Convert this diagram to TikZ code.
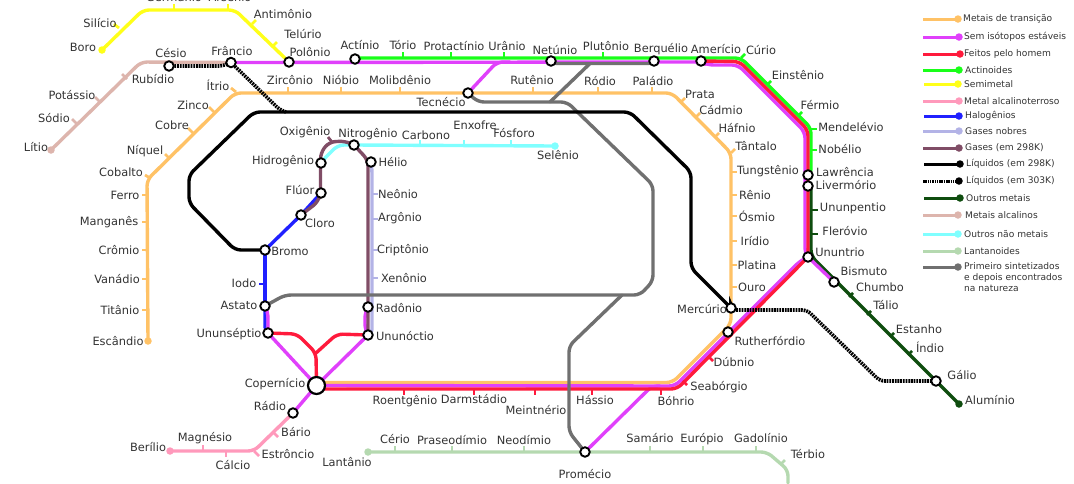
\documentclass[tikz,border=0pt]{standalone}
\usepackage{fontspec}
\setmainfont{DejaVu Sans}
\usetikzlibrary{backgrounds}
\definecolor{cOra}{HTML}{FFC266}
\definecolor{cMag}{HTML}{E040FB}
\definecolor{cRed}{HTML}{FF1A3C}
\definecolor{cGre}{HTML}{19FF19}
\definecolor{cYel}{HTML}{FFFF19}
\definecolor{cPin}{HTML}{FF99BB}
\definecolor{cBlu}{HTML}{2020FF}
\definecolor{cLav}{HTML}{B3B3E6}
\definecolor{cBro}{HTML}{804D66}
\definecolor{cDkg}{HTML}{0F4D0F}
\definecolor{cAlc}{HTML}{DDB5AD}
\definecolor{cCya}{HTML}{80FFFF}
\definecolor{cLan}{HTML}{B5D9B0}
\definecolor{cGra}{HTML}{707070}
\definecolor{cTxt}{HTML}{333333}
\tikzset{
  st/.style={circle,draw=black,fill=white,line width=1.9pt,minimum size=9.5pt,inner sep=0pt},
  stbig/.style={st,line width=2.2pt,minimum size=17pt},
  enddot/.style={circle,fill=#1,minimum size=7.5pt,inner sep=0pt},
  rt/.style={line width=3.4pt,rounded corners=6pt,line cap=round},
  dotline/.style={line width=3.6pt,rounded corners=5pt,dash pattern=on 1.8pt off 0.9pt,draw=black},
  tk/.style={line width=2.8pt},
  lbl/.style={inner sep=0pt,text=cTxt,font=\fontsize{11.4pt}{13pt}\selectfont},
  leglbl/.style={inner sep=0pt,anchor=west,text=cTxt,font=\fontsize{9.1pt}{11pt}\selectfont,align=left},
  legl/.style={line width=3pt}
}
\newcommand{\lbl}[4]{\node[lbl] (#1) at (#2,#3) {#4};}
\newcommand{\tck}[5]{\draw[tk,#1] (#2,#3) -- (#4,#5);}
\newcommand{\leg}[7]{%
  \node[enddot=#2] (d#1) at (#4,#3) {};
  \node[leglbl] (t#1) at (#5,#3) {#7};
  \begin{pgfonlayer}{background}\draw[legl,#2] (#6,#3) -- (d#1.center);\end{pgfonlayer}}
\begin{document}
\begin{tikzpicture}[x=1pt,y=-1pt]
\useasboundingbox (0,0) rectangle (1074,483);
\clip (0,0) rectangle (1074,483);
% stations
\node[st] (ces) at (169,66) {};
\node[st] (frn) at (231,62.5) {};
\node[st] (pol) at (289,62) {};
\node[st] (act) at (355,59) {};
\node[st] (net) at (551,61) {};
\node[st] (ber) at (654,61) {};
\node[st] (ame) at (701,61) {};
\node[st] (tec) at (468,93) {};
\node[st] (law) at (808,175) {};
\node[st] (liv) at (808,186) {};
\node[st] (uut) at (808,257) {};
\node[st] (bis) at (834,282) {};
\node[st] (gal) at (936,381) {};
\node[st] (mer) at (731,308) {};
\node[st] (rut) at (728,332) {};
\node[st] (hid) at (321,163) {};
\node[st] (nit) at (354,145) {};
\node[st] (hel) at (371,162) {};
\node[st] (flu) at (321,193) {};
\node[st] (clo) at (301,215) {};
\node[st] (bro) at (265,250) {};
\node[st] (ast) at (265,306) {};
\node[st] (uns) at (268,333) {};
\node[st] (rad) at (368,307) {};
\node[st] (uno) at (368,335) {};
\node[stbig] (cop) at (316.5,385.5) {};
\node[st] (rdi) at (293,413) {};
\node[st] (pro) at (585,452) {};
% terminal dots
\node[enddot=cYel] (bor) at (102,50) {};
\node[enddot=cAlc] (lit) at (51,150) {};
\node[enddot=cOra] (esc) at (148,341) {};
\node[enddot=cCya] (sel) at (555,146) {};
\node[enddot=cPin] (bel) at (170,451) {};
\node[enddot=cLan] (lan) at (368,452) {};
\node[enddot=cDkg] (alu) at (959,404) {};
% free ends
\coordinate (terbEnd) at (788,483);
\begin{pgfonlayer}{background}
% ticks
\tck{cYel}{119}{28}{114}{24}\tck{cYel}{174}{9}{174}{4}\tck{cYel}{228}{9}{228}{4}\tck{cYel}{252}{24}{256}{20}\tck{cYel}{273}{46}{277}{42}
\tck{cAlc}{122}{74}{127}{79}\tck{cAlc}{100}{102}{95}{97}\tck{cAlc}{77}{124}{72}{119}
\tck{cOra}{236}{92}{231}{88}\tck{cOra}{214}{112}{209}{107}\tck{cOra}{193}{133}{188}{128}\tck{cOra}{170}{159}{165}{154}\tck{cOra}{150}{178}{145}{175}
\tck{cOra}{147}{195}{142}{195}\tck{cOra}{147}{222}{142}{222}\tck{cOra}{147}{250}{142}{250}\tck{cOra}{147}{279}{142}{279}\tck{cOra}{147}{310}{142}{310}
\tck{cOra}{288}{93}{288}{87}\tck{cOra}{341}{93}{341}{87}\tck{cOra}{400}{93}{400}{87}\tck{cOra}{533}{93}{533}{87}\tck{cOra}{598}{93}{598}{87}\tck{cOra}{652}{93}{652}{87}
\tck{cOra}{681}{102}{685}{98}\tck{cOra}{696}{117}{700}{113}\tck{cOra}{715}{137}{719}{133}\tck{cOra}{731}{153}{735}{149}
\tck{cOra}{731}{172}{737}{172}\tck{cOra}{731}{195}{737}{195}\tck{cOra}{731}{216}{737}{216}\tck{cOra}{731}{241}{737}{241}\tck{cOra}{731}{265}{737}{265}\tck{cOra}{731}{287}{737}{287}
\tck{cGre}{403}{58}{403}{52}\tck{cGre}{451}{58}{451}{52}\tck{cGre}{504}{58}{504}{52}\tck{cGre}{603}{58}{603}{52}
\tck{cGre}{741}{58}{745}{54}\tck{cGre}{767}{85}{771}{81}\tck{cGre}{798}{116}{802}{112}
\tck{cGre}{811}{129}{817}{129}\tck{cGre}{811}{150}{817}{150}
\tck{cDkg}{811}{210}{818}{210}\tck{cDkg}{811}{234}{818}{234}
\tck{cDkg}{849}{297}{853}{293}\tck{cDkg}{867}{315}{871}{311}\tck{cDkg}{890}{337}{894}{333}\tck{cDkg}{908}{355}{912}{351}
\tck{cRed}{404}{389}{404}{395}\tck{cRed}{474}{389}{474}{395}\tck{cRed}{535}{389}{535}{395}\tck{cRed}{592}{389}{592}{395}\tck{cRed}{661}{389}{661}{395}
\tck{cRed}{682}{380}{687}{385}\tck{cRed}{708}{356}{713}{361}
\tck{cCya}{420}{146}{420}{140}\tck{cCya}{464}{146}{464}{140}\tck{cCya}{511}{146}{511}{140}
\tck{cBro}{332}{142}{328}{137}
\tck{cBlu}{265}{284}{259}{284}
\tck{cLav}{372}{194}{378}{194}\tck{cLav}{372}{219}{378}{219}\tck{cLav}{372}{250}{378}{250}\tck{cLav}{372}{278}{378}{278}
\tck{cPin}{203}{451}{203}{445}\tck{cPin}{226}{451}{226}{457}\tck{cPin}{254}{451}{259}{456}\tck{cPin}{273}{432}{278}{437}
\tck{cLan}{395}{452}{395}{446}\tck{cLan}{452}{452}{452}{446}\tck{cLan}{524}{452}{524}{446}\tck{cLan}{650}{452}{650}{446}\tck{cLan}{703}{452}{703}{446}\tck{cLan}{756}{452}{756}{446}\tck{cLan}{781}{464}{785}{460}
% lines
\draw[rt,cYel] (bor.center) -- (143,10) -- (235,10) -- (pol.center);
\draw[rt,cAlc] (lit.center) -- (141,62) -- (frn.center);
\draw[rt,cOra] (cop.center) ++(0,-3) -- (672.5,382.5) -- (731,324) -- (mer.center) -- (731,153) -- (672,93) -- (235,93) -- (147,180) -- (esc.center);
\draw[rt,cPin] (rdi.center) -- (254,451) -- (bel.center);
\draw[rt,cLan] (lan.center) -- (767,452) -- (788,470) -- (terbEnd);
\draw[rt,cLav] (hel.center) -- (372,168) -- (372,335) -- (uno.center);
\draw[rt,cCya] (hid.center) -- (323,160) -- (338,145) -- (nit.center) -- (sel.center);
\draw[rt,cBlu] (flu.center) -- (clo.center) -- (bro.center) -- (265,328);
\draw[rt,cMag] (ast.center) -- (268,312) -- (uns.center);
\draw[rt,cMag] (rad.center) -- (365,312) -- (365,330) -- (uno.center);
\draw[rt,cBro] (clo.center) -- (318,202) -- (320.5,193) -- (320.5,153) -- (329,142) -- (345,141) -- (nit.center) -- (368,160) -- (368,335) -- (uno.center);
\draw[rt,cBlu] (bro.center) -- (265,306);
\draw[rt,cDkg] ([xshift=3pt]liv.center) -- (811,256) -- (gal.center) -- (alu.center);
\draw[rt,cGre] (act.center) -- (355,58) -- (741,58) -- (811,128) -- (811,175) -- (law.center);
\draw[rt,cMag] (frn.center) -- (701,62) -- (708,65) -- (738,65) -- (805,132) -- (805,254) -- (uut.center);
\draw[rt,cMag] (tec.center) -- (497,62) -- (510,62);
\draw[rt,cRed] (ame.center) -- (739.5,61.5) -- (808,130) -- (uut.center);
\draw[rt,cMag] (uns.center) -- (cop.center);
\draw[rt,cMag] (uno.center) -- (cop.center);
\draw[rt,cMag] (cop.center) -- (rdi.center);
\draw[rt,cMag] (uut.center) -- (bis.center);
\draw[rt,cMag] (pro.center) -- (652,386) -- (660,386);
\draw[rt,cMag] (cop.center) -- (675,386) -- (800,261) -- (uut.center);
\draw[rt,cRed] ([yshift=-3.5pt]cop.center) -- (677,389) -- (uut.center);
\draw[rt,cRed] (uns.center) -- (297,334) -- (316,353) -- (cop.center);
\draw[rt,cRed] (uno.center) -- (337,334) -- (316,353);
\draw[rt,cGra] (net.center) -- (551,63.5) -- (654,63.5) -- (ber.center);
\draw[rt,cGra] (590,63.5) -- (550,102);
\draw[rt,cGra] (tec.center) -- (478,102) -- (567,102) -- (653,185) -- (653,281) -- (640,295) -- (285,295) -- (ast.center);
\draw[rt,cGra] (622,295) -- (569,346) -- (569,432) -- (pro.center);
\draw[rt,black] (bro.center) -- (235,250) -- (189,203) -- (189,175) -- (254,112) -- (630,112) -- (691,172) -- (691,268) -- (mer.center);
\draw[dotline] (ces.center) -- (223,66) -- (frn.center);
\draw[dotline] (frn.center) -- (280,110) -- (286,112);
\draw[dotline] (mer.center) -- (731,310) -- (807,310) -- (880,381) -- (gal.center);
\end{pgfonlayer}
% labels
\lbl{lSil}{100}{23}{Silício}\lbl{lBor}{83}{47}{Boro}\lbl{lGer}{174}{-3}{Germânio}\lbl{lArs}{230}{-3}{Arsênio}\lbl{lAnt}{283}{14}{Antimônio}\lbl{lTel}{303}{34}{Telúrio}\lbl{lPol}{310}{52}{Polônio}
\lbl{lAct}{360}{45}{Actínio}\lbl{lTor}{403}{45}{Tório}\lbl{lPrt}{454}{46}{Protactínio}\lbl{lUra}{507}{46}{Urânio}\lbl{lNet}{555}{50}{Netúnio}\lbl{lPlu}{606}{46}{Plutônio}\lbl{lBer}{661}{49}{Berquélio}\lbl{lAme}{716}{49}{Amerício}\lbl{lCur}{761}{50}{Cúrio}
\lbl{lEin}{798}{75}{Einstênio}\lbl{lFer}{820}{105}{Férmio}\lbl{lMen}{851}{127}{Mendelévio}\lbl{lNob}{840}{149}{Nobélio}\lbl{lLaw}{845}{172}{Lawrência}\lbl{lLiv}{846}{185}{Livermório}\lbl{lUup}{853}{208}{Ununpentio}\lbl{lFle}{845}{231}{Fleróvio}\lbl{lUut}{840}{252}{Ununtrio}\lbl{lBis}{864}{271}{Bismuto}\lbl{lChu}{880}{287}{Chumbo}\lbl{lTal}{886}{305}{Tálio}\lbl{lEst}{919}{329}{Estanho}\lbl{lInd}{930}{347}{Índio}\lbl{lGal}{962}{375}{Gálio}\lbl{lAlu}{990}{400}{Alumínio}
\lbl{lLit}{36}{147}{Lítio}\lbl{lSod}{54}{118}{Sódio}\lbl{lPot}{72}{95}{Potássio}\lbl{lRub}{153}{79}{Rubídio}\lbl{lCes}{171}{53}{Césio}\lbl{lFrn}{232}{51}{Frâncio}
\lbl{lItr}{218}{85}{Ítrio}\lbl{lZin}{193}{105}{Zinco}\lbl{lCob}{172}{125}{Cobre}\lbl{lNiq}{145}{151}{Níquel}\lbl{lCbl}{121}{172}{Cobalto}\lbl{lFeo}{125}{195}{Ferro}\lbl{lMan}{109}{222}{Manganês}\lbl{lCro}{119}{250}{Crômio}\lbl{lVan}{117}{279}{Vanádio}\lbl{lTit}{120}{310}{Titânio}\lbl{lEsc}{118}{341}{Escândio}
\lbl{lZir}{290}{80}{Zircônio}\lbl{lNio}{341}{80}{Nióbio}\lbl{lMol}{400}{80}{Molibdênio}\lbl{lTec}{441}{102}{Tecnécio}\lbl{lRut}{532}{80}{Rutênio}\lbl{lRod}{600}{81}{Ródio}\lbl{lPal}{653}{81}{Paládio}\lbl{lPra}{700}{94}{Prata}\lbl{lCad}{721}{110}{Cádmio}\lbl{lHaf}{737}{128}{Háfnio}\lbl{lTan}{756}{146}{Tântalo}\lbl{lTun}{768}{171}{Tungstênio}\lbl{lRen}{755}{195}{Rênio}\lbl{lOsm}{757}{216}{Ósmio}\lbl{lIri}{755}{241}{Irídio}\lbl{lPla}{757}{265}{Platina}\lbl{lOur}{752}{287}{Ouro}\lbl{lMer}{702}{309}{Mercúrio}
\lbl{lRtf}{770}{341}{Rutherfórdio}\lbl{lDub}{734}{362}{Dúbnio}\lbl{lSea}{719}{387}{Seabórgio}\lbl{lBoh}{676}{401}{Bóhrio}\lbl{lHas}{595}{400}{Hássio}\lbl{lMei}{536}{410}{Meintnério}\lbl{lDar}{474}{399}{Darmstádio}\lbl{lRoe}{405}{401}{Roentgênio}\lbl{lCop}{275}{384}{Copernício}\lbl{lRad}{270}{406}{Rádio}\lbl{lBar}{296}{432}{Bário}\lbl{lEsr}{288}{454}{Estrôncio}\lbl{lBel}{148}{447}{Berílio}\lbl{lMag}{205}{438}{Magnésio}\lbl{lCal}{233}{465}{Cálcio}
\lbl{lLan}{347}{462}{Lantânio}\lbl{lCer}{395}{439}{Cério}\lbl{lPrs}{452}{440}{Praseodímio}\lbl{lNeo}{524}{440}{Neodímio}\lbl{lPro}{585}{474}{Promécio}\lbl{lSam}{650}{438}{Samário}\lbl{lEur}{702}{439}{Európio}\lbl{lGad}{761}{438}{Gadolínio}\lbl{lTer}{808}{454}{Térbio}
\lbl{lOxi}{305}{132}{Oxigênio}\lbl{lNit}{368}{134}{Nitrogênio}\lbl{lCar}{426}{135}{Carbono}\lbl{lEnx}{475}{125}{Enxofre}\lbl{lFos}{514}{133}{Fósforo}\lbl{lSel}{558}{155}{Selênio}\lbl{lHid}{283}{161}{Hidrogênio}\lbl{lHel}{393}{162}{Hélio}\lbl{lFlu}{300}{190}{Flúor}\lbl{lClo}{320}{223}{Cloro}\lbl{lNeo2}{398}{194}{Neônio}\lbl{lArg}{400}{218}{Argônio}\lbl{lBro}{290}{251}{Bromo}\lbl{lCri}{403}{250}{Criptônio}\lbl{lXen}{404}{278}{Xenônio}\lbl{lIod}{244}{283}{Iodo}\lbl{lAst}{239}{305}{Astato}\lbl{lRdn}{399}{308}{Radônio}\lbl{lUns}{229}{334}{Ununséptio}\lbl{lUno}{405}{336}{Ununóctio}
% legend
\leg{a}{cOra}{19}{958}{963}{923}{Metais de transição}
\leg{b}{cMag}{37}{959}{964}{923}{Sem isótopos estáveis}
\leg{c}{cRed}{54}{960}{964}{923}{Feitos pelo homem}
\leg{d}{cGre}{70}{959}{965}{923}{Actinoides}
\leg{e}{cYel}{84}{958}{964}{924}{Semimetal}
\leg{f}{cPin}{101}{959}{964}{923}{Metal alcalinoterroso}
\leg{g}{cBlu}{116}{959}{965}{924}{Halogênios}
\leg{h}{cLav}{131}{959}{965}{923}{Gases nobres}
\leg{i}{cBro}{148}{959}{965}{923}{Gases (em 298K)}
\leg{j}{black}{164}{960}{966}{924}{Líquidos (em 298K)}
\node[enddot=black] (dk) at (959,181) {};
\node[leglbl] (tk) at (966,181) {Líquidos (em 303K)};
\coordinate (legDotStart) at (923,181);
\begin{pgfonlayer}{background}\draw[legl,dash pattern=on 1.5pt off 0.8pt] (legDotStart) -- (dk.center);\end{pgfonlayer}
\leg{l}{cDkg}{198}{960}{966}{924}{Outros metais}
\leg{m}{cAlc}{215}{958}{965}{923}{Metais alcalinos}
\leg{n}{cCya}{234}{958}{964}{923}{Outros não metais}
\leg{o}{cLan}{251}{958}{964}{923}{Lantanoides}
\node[enddot=cGra] (dp) at (958,267) {};
\node[leglbl,anchor=north west] (tp) at (964,262.5) {Primeiro sintetizados\\e depois encontrados\\na natureza};
\coordinate (legGraStart) at (923,267);
\begin{pgfonlayer}{background}\draw[legl,cGra] (legGraStart) -- (dp.center);\end{pgfonlayer}
\end{tikzpicture}
\end{document}
